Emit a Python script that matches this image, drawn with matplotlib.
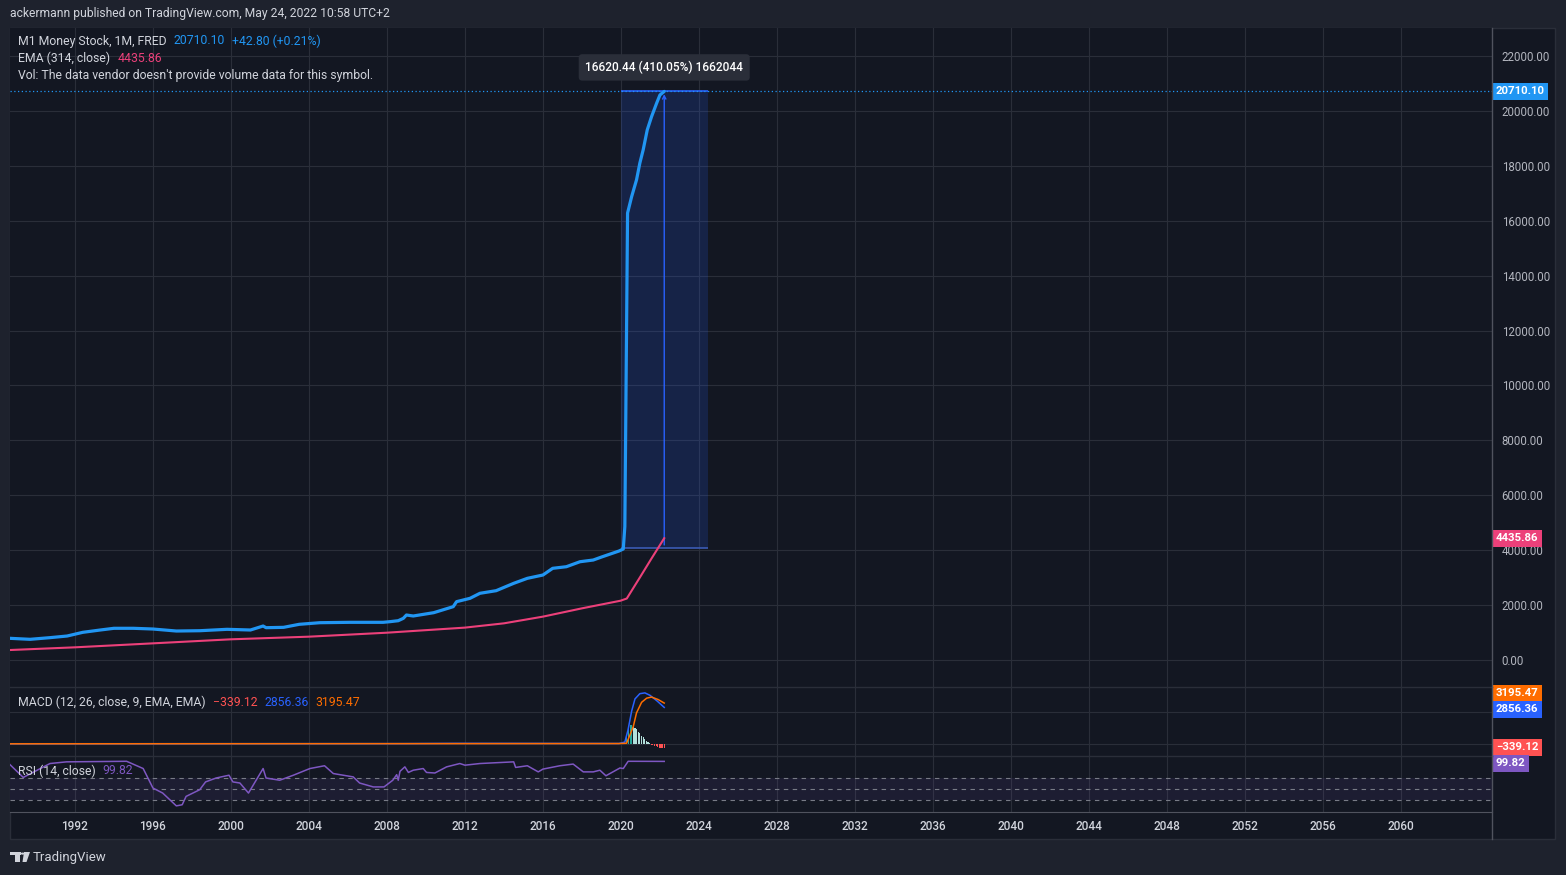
import matplotlib
matplotlib.use("Agg")
import matplotlib.pyplot as plt
from matplotlib.patches import Rectangle, Polygon, Circle
from matplotlib.lines import Line2D
from matplotlib.transforms import blended_transform_factory

plt.rcParams['font.family'] = ['Roboto', 'DejaVu Sans']

W, H = 1566, 875

# M1 money stock, fractional year -> billions of $
m1_t = [1988.67, 1989.7, 1990.7, 1991.6, 1992.4, 1993.3, 1994.0, 1995.0, 1996.0, 1997.2,
        1998.4, 1999.8, 2001.0, 2001.65, 2001.8, 2002.7, 2003.5, 2004.56, 2006.1, 2007.8,
        2008.15, 2008.58, 2008.84, 2009.0, 2009.35, 2010.4, 2011.4, 2011.57, 2012.26, 2012.77,
        2013.6, 2014.5, 2015.2, 2016.0, 2016.5, 2017.2, 2017.9, 2018.58, 2019.0, 2019.9,
        2020.12, 2020.2, 2020.34, 2020.55, 2020.8, 2020.97, 2021.14, 2021.35, 2021.57, 2021.83,
        2022.0, 2022.22]
m1_v = [790, 754, 813, 874, 1008, 1093, 1155, 1155, 1129, 1056,
        1067, 1118, 1093, 1238, 1177, 1190, 1300, 1359, 1373, 1373,
        1396, 1432, 1518, 1639, 1603, 1724, 1943, 2125, 2247, 2430,
        2525, 2793, 2975, 3096, 3340, 3398, 3580, 3642, 3750, 3970,
        4044, 4860, 16280, 16880, 17490, 18100, 18580, 19310, 19790, 20280,
        20580, 20710.10]

# EMA(314)
ema_t = [1988.67, 1992.0, 1996.0, 2000.0, 2004.0, 2008.0, 2012.0, 2014.0, 2016.0, 2018.0,
         2019.98, 2020.3, 2021.0, 2021.57, 2022.22]
ema_v = [364, 462, 607, 754, 850, 995, 1180, 1336, 1580, 1882,
         2160, 2240, 3040, 3700, 4435.86]

# MACD(12, 26, 9)
macd_t = [1988.67, 2008.8, 2011.6, 2019.9, 2020.2, 2020.36, 2020.55, 2020.72, 2020.97,
          2021.23, 2021.49, 2021.83, 2022.22]
macd_v = [20, 30, 50, 40, 150, 1070, 2570, 3520, 3930, 3990, 3800, 3390, 2856.36]
signal_t = [1988.67, 2019.9, 2020.29, 2020.63, 2020.8, 2021.06, 2021.32, 2021.57, 2021.91, 2022.22]
signal_v = [15, 35, 60, 1340, 2435, 3255, 3580, 3665, 3470, 3195.47]
hist_months = [(2020, m) for m in range(5, 13)] + [(2021, m) for m in range(1, 13)] + \
              [(2022, m) for m in range(1, 5)]
hist_v = [700, 1225, 1480, 1500, 1400, 1270, 1145, 960, 835, 650, 520, 365, 260, 155, 50,
          -40, -90, -140, -190, -240, -280, -310, -325, -339.12]

# RSI(14)
rsi_t = [1988.67, 1989.35, 1990.72, 1991.57, 1994.65, 1995.5, 1996.0, 1996.5, 1997.2, 1997.5,
         1997.7, 1998.4, 1998.7, 1999.24, 1999.9, 2000.1, 2000.46, 2000.9, 2001.65, 2001.8,
         2002.5, 2003.2, 2004.05, 2004.8, 2005.25, 2006.27, 2006.6, 2007.3, 2007.85, 2008.3,
         2008.5, 2008.58, 2008.67, 2008.92, 2009.1, 2009.35, 2009.86, 2010.03, 2010.46, 2011.06,
         2011.74, 2012.0, 2012.77, 2014.5, 2014.6, 2015.2, 2015.76, 2016.0, 2016.87, 2017.55,
         2018.07, 2018.58, 2018.92, 2019.23, 2019.95, 2020.12, 2020.37, 2022.22]
rsi_v = [94, 71, 96, 99, 100, 87, 52, 43, 20, 22,
         37, 49, 63, 70, 75, 63, 61, 43, 87, 70,
         66, 75, 87, 92, 78, 72, 61, 54, 54, 66,
         76, 66, 82, 90, 80, 84, 87, 80, 79, 90,
         96, 93, 96, 99, 89, 92, 81, 86, 92, 95,
         81, 81, 84, 74, 88, 87, 100, 99.82]

year_ticks = list(range(1992, 2061, 4))
price_ticks = list(range(0, 22001, 2000))
last_close = 20710.10
last_ema = 4435.86
range_change = 16620.44
range_start, range_end, range_right = 2019.98, 2022.22, 2024.44
range_low = last_close - range_change

BG = '#1e222d'
PANE = '#131722'
GRID = '#2a2e39'
TXT = '#d1d4dc'
TICK = '#b2b5be'
XMIN, XMAX = 1988.67, 2064.67
LBL = dict(boxstyle='square,pad=0.3')


def fx(x):
    return x / W


def fy(y):
    return 1 - y / H


fig = plt.figure(figsize=(W / 100, H / 100), dpi=100, facecolor=BG)
fig.add_artist(Rectangle((fx(10), fy(839)), 1545 / W, 811 / H, transform=fig.transFigure,
                         facecolor=PANE, edgecolor=GRID, lw=1, zorder=0))


def pane(top, bottom):
    ax = fig.add_axes([fx(10), fy(bottom), 1482 / W, (bottom - top) / H])
    ax.set_facecolor(PANE)
    ax.set_xlim(XMIN, XMAX)
    ax.set_xticks(year_ticks)
    ax.grid(axis='x', color=GRID, lw=0.8)
    ax.tick_params(axis='x', length=0, labelbottom=False)
    ax.yaxis.tick_right()
    ax.tick_params(axis='y', length=0, colors=TICK, labelsize=8.3, pad=7)
    for s in ax.spines.values():
        s.set_visible(False)
    ax.set_axisbelow(True)
    return ax


def price_label(axis, val, col, dy=0):
    tr = blended_transform_factory(axis.transAxes, axis.transData)
    axis.annotate(f"{val:.2f}".replace('-', '\u2212'), xy=(1.0, val), xycoords=tr,
                  xytext=(4, dy), textcoords='offset pixels', ha='left', va='center',
                  color='white', fontsize=8.2, fontweight='bold', zorder=7,
                  annotation_clip=False, bbox=dict(fc=col, ec='none', **LBL))


# ---- main price pane
ax = pane(28, 687)
ax.set_ylim(-983, 23020)
ax.set_yticks(price_ticks)
ax.set_yticklabels([f"{v:.2f}" for v in price_ticks])
ax.grid(axis='y', color=GRID, lw=0.8)

ax.add_patch(Rectangle((range_start, range_low), range_right - range_start, range_change,
                       facecolor='#2962ff', alpha=0.17, lw=0, zorder=1))
ax.hlines(last_close, range_start, range_right, color='#2962ff', lw=1.2, zorder=2)
ax.hlines(range_low, range_start, range_right, color='#3b5bb5', lw=1.2, zorder=2)
ax.annotate('', xy=(range_end, last_close), xytext=(range_end, range_low),
            arrowprops=dict(arrowstyle='->', color='#2962ff', lw=1, mutation_scale=6), zorder=2)
ax.axhline(last_close, color='#2196f3', ls=(0, (1, 2)), lw=0.9, zorder=2)

ax.plot(ema_t, ema_v, color='#ec407a', lw=1.5, zorder=3, solid_joinstyle='round')
ax.plot(m1_t, m1_v, color='#2196f3', lw=2.3, zorder=4, solid_joinstyle='round',
        solid_capstyle='round')

ax.annotate(f"{range_change:.2f} (410.05%) 1662044", xy=(range_end, last_close),
            xytext=(0, 24), textcoords='offset pixels', ha='center', va='center',
            color='white', fontsize=8.6, fontweight='medium', zorder=6,
            bbox=dict(boxstyle='round,pad=0.55,rounding_size=0.3', fc='#2a2e39', ec='none'))

price_label(ax, last_close, '#2196f3')
price_label(ax, last_ema, '#ec407a')

# ---- MACD pane
ax2 = pane(687, 756)
ax2.set_ylim(-937, 4450)
ax2.set_yticks([0, 2500])
ax2.set_yticklabels(['', ''])
ax2.grid(axis='y', color=GRID, lw=0.8)
hist_x = [y + (m - 1) / 12 - 0.03 for y, m in hist_months]
cols = []
for i, v in enumerate(hist_v):
    prev = hist_v[i - 1] if i else 0
    if v >= 0:
        cols.append('#26a69a' if v >= prev else '#b2dfdb')
    else:
        cols.append('#ff5252' if v <= prev else '#ffcdd2')
ax2.bar(hist_x, hist_v, width=0.055, color=cols, zorder=2)
ax2.plot(macd_t, macd_v, color='#2962ff', lw=1.1, zorder=3)
ax2.plot(signal_t, signal_v, color='#ff6d00', lw=1.1, zorder=4)
price_label(ax2, 3195.47, '#ff6d00', 10)
price_label(ax2, 2856.36, '#2962ff', -2)
price_label(ax2, -339.12, '#ff5252', 1)

# ---- RSI pane
ax3 = pane(756, 812)
ax3.set_ylim(9.0, 109.5)
ax3.set_yticks([])
ax3.axhspan(30, 70, color='#7e57c2', alpha=0.1, lw=0)
for lvl in (70, 50, 30):
    ax3.axhline(lvl, color='#787b86', ls=(0, (4, 4)), lw=0.8)
ax3.plot(rsi_t, rsi_v, color='#7e57c2', lw=1.1, zorder=3)
ax3.tick_params(axis='x', labelbottom=True, colors=TXT, labelsize=8.5, pad=5.5)
ax3.set_xticklabels([str(y) for y in year_ticks], fontweight='medium')
ax3.spines['bottom'].set_visible(True)
ax3.spines['bottom'].set_color('#50535e')
price_label(ax3, rsi_v[-1], '#7e57c2', -2)

# pane separators and price-scale border
for yy in (687, 756):
    fig.add_artist(Line2D([fx(10), fx(1492)], [fy(yy), fy(yy)], color=GRID, lw=1))
fig.add_artist(Line2D([fx(1492), fx(1492)], [fy(28), fy(839)], color='#50535e', lw=1))

# ---- texts
fig.text(fx(10), fy(14), "ackermann published on TradingView.com, May 24, 2022 10:58 UTC+2",
         color=TXT, fontsize=8.7, va='center')
legend = [
    (41, [("M1 Money Stock, 1M, FRED", TXT), ("20710.10", '#2196f3'),
          ("+42.80 (+0.21%)", '#2196f3')]),
    (58, [("EMA (314, close)", TXT), ("4435.86", '#ec407a')]),
    (75, [("Vol: The data vendor doesn't provide volume data for this symbol.", TXT)]),
    (702, [("MACD (12, 26, close, 9, EMA, EMA)", TXT), ("\u2212339.12", '#ff5252'),
           ("2856.36", '#2962ff'), ("3195.47", '#ff6d00')]),
    (771, [("RSI (14, close)", TXT), ("99.82", '#7e57c2')]),
]
renderer = fig.canvas.get_renderer()
for yy, parts in legend:
    xx = 18
    for s, c in parts:
        t = fig.text(fx(xx), fy(yy), s, color=c, fontsize=8.8, va='center', zorder=8)
        xx = t.get_window_extent(renderer).x1 + 7

# footer logo + name
logo = '#d1d4dc'
fig.add_artist(Rectangle((fx(10), fy(855)), 10.5 / W, 3.3 / H, transform=fig.transFigure,
                         fc=logo, ec='none'))
fig.add_artist(Rectangle((fx(15), fy(862)), 5.5 / W, 10 / H, transform=fig.transFigure,
                         fc=logo, ec='none'))
fig.add_artist(Circle((fx(22.6), fy(853.6)), 1.9 / W, transform=fig.transFigure, fc=logo, ec='none'))
fig.add_artist(Polygon([(fx(24), fy(852)), (fx(30), fy(852)), (fx(26.5), fy(862)), (fx(22.5), fy(862))],
                       closed=True, transform=fig.transFigure, fc=logo, ec='none'))
fig.text(fx(33), fy(857), "TradingView", color=logo, fontsize=9.5, va='center')

fig.savefig('out.png', dpi=100, facecolor=BG)
